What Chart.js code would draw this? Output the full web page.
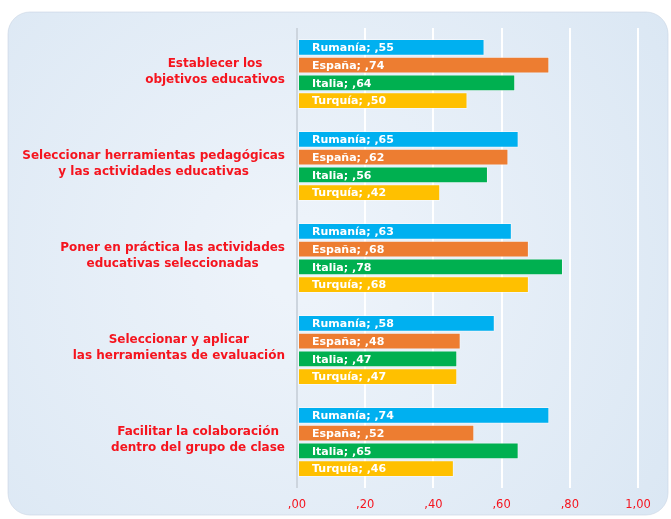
<!DOCTYPE html>
<html>
<head>
<meta charset="utf-8">
<script src="https://cdn.jsdelivr.net/npm/chart.js@4/dist/chart.umd.min.js"></script>
<style>
  html, body { margin: 0; padding: 0; background: #ffffff; }
  #wrap { width: 671px; height: 519px; position: relative; }
</style>
</head>
<body>
<div id="wrap"><canvas id="grafico"></canvas></div>
<script>
// Datos
const categorias = [
    ["Establecer los", "objetivos educativos"],
    ["Seleccionar herramientas pedagógicas", "y las actividades educativas"],
    ["Poner en práctica las actividades", "educativas seleccionadas"],
    ["Seleccionar y aplicar", "las herramientas de evaluación"],
    ["Facilitar la colaboración", "dentro del grupo de clase"]
];
const paises = ["Rumanía", "España", "Italia", "Turquía"];
const rumania = [0.55, 0.65, 0.63, 0.58, 0.74];
const espana  = [0.74, 0.62, 0.68, 0.48, 0.52];
const italia  = [0.64, 0.56, 0.78, 0.47, 0.65];
const turquia = [0.50, 0.42, 0.68, 0.47, 0.46];
const ticksX = [0, 0.2, 0.4, 0.6, 0.8, 1.0];

const colores = ["#00b0f0", "#ed7d31", "#00b050", "#ffc000"];
const ROJO = "#f5141e";

// ,55 / 1,00 (formato decimal con coma)
function fmt(v) {
    const s = v.toFixed(2).replace(".", ",");
    return s.startsWith("0") ? s.substring(1) : s;
}

/* Fondo del panel redondeado */
const fondoPanel = {
    id: "fondoPanel",
    beforeDraw(chart) {
        const { ctx } = chart;
        const x = 8, y = 12, w = 660, h = 503, r = 22;
        ctx.save();
        const g = ctx.createRadialGradient(300, 260, 40, 300, 260, 480);
        g.addColorStop(0, "#edf3fa");
        g.addColorStop(1, "#d9e6f3");
        ctx.fillStyle = g;
        ctx.beginPath();
        ctx.roundRect(x, y, w, h, r);
        ctx.fill();
        ctx.strokeStyle = "rgba(200,212,226,0.6)";
        ctx.lineWidth = 1;
        ctx.stroke();
        ctx.restore();
    }
};

/* Etiquetas de categoría (rojo, centradas por bloque) */
const etiquetasCategoria = {
    id: "etiquetasCategoria",
    afterDraw(chart) {
        const { ctx } = chart;
        const escalaY = chart.scales.y;
        const derecha = chart.chartArea.left - 12;
        ctx.save();
        ctx.font = "bold 12px 'DejaVu Sans'";
        ctx.fillStyle = ROJO;
        ctx.textAlign = "center";
        ctx.textBaseline = "middle";
        categorias.forEach((lineas, i) => {
            const yc = escalaY.getPixelForValue(i) - 2;
            const ancho = Math.max(...lineas.map(l => ctx.measureText(l).width));
            const xc = derecha - ancho / 2;
            const alto = 16;
            lineas.forEach((l, j) => {
                ctx.fillText(l, xc, yc + (j - (lineas.length - 1) / 2) * alto);
            });
        });
        ctx.restore();
    }
};

/* Texto dentro de cada barra: "País; ,55" */
const etiquetasBarras = {
    id: "etiquetasBarras",
    afterDatasetsDraw(chart) {
        const { ctx } = chart;
        ctx.save();
        ctx.font = "bold 11px 'DejaVu Sans'";
        ctx.fillStyle = "#ffffff";
        ctx.textAlign = "left";
        ctx.textBaseline = "middle";
        chart.data.datasets.forEach((ds, di) => {
            chart.getDatasetMeta(di).data.forEach((bar, i) => {
                ctx.fillText(ds.label + "; " + fmt(ds.data[i]), bar.base + 14, bar.y + 1);
            });
        });
        ctx.restore();
    }
};

const series = [rumania, espana, italia, turquia];

new Chart(document.getElementById("grafico"), {
    type: "bar",
    data: {
        labels: categorias.map(c => c.join(" ")),
        datasets: paises.map((p, i) => ({
            label: p,
            data: series[i],
            backgroundColor: colores[i],
            borderColor: "rgba(255,255,255,0.45)",
            borderWidth: 1,
            borderSkipped: false,
            barPercentage: 0.95,
            categoryPercentage: 0.77
        }))
    },
    options: {
        indexAxis: "y",
        responsive: true,
        maintainAspectRatio: false,
        animation: false,
        layout: { padding: { left: 297, right: 33, top: 28, bottom: 6 } },
        plugins: {
            legend: { display: false },
            tooltip: { enabled: false }
        },
        scales: {
            x: {
                min: 0,
                max: 1,
                afterBuildTicks(scale) {
                    scale.ticks = ticksX.map(v => ({ value: v }));
                },
                afterFit(scale) {
                    scale.height = 25;
                },
                ticks: {
                    callback: v => fmt(v),
                    color: ROJO,
                    font: { family: "'DejaVu Sans'", size: 11.5 },
                    padding: 10
                },
                grid: {
                    color: ctx => ctx.index === 0 ? "#cdd5de" : "#ffffff",
                    lineWidth: 2,
                    drawTicks: false
                },
                border: { display: false }
            },
            y: {
                display: false
            }
        }
    },
    plugins: [fondoPanel, etiquetasCategoria, etiquetasBarras]
});
</script>
</body>
</html>
